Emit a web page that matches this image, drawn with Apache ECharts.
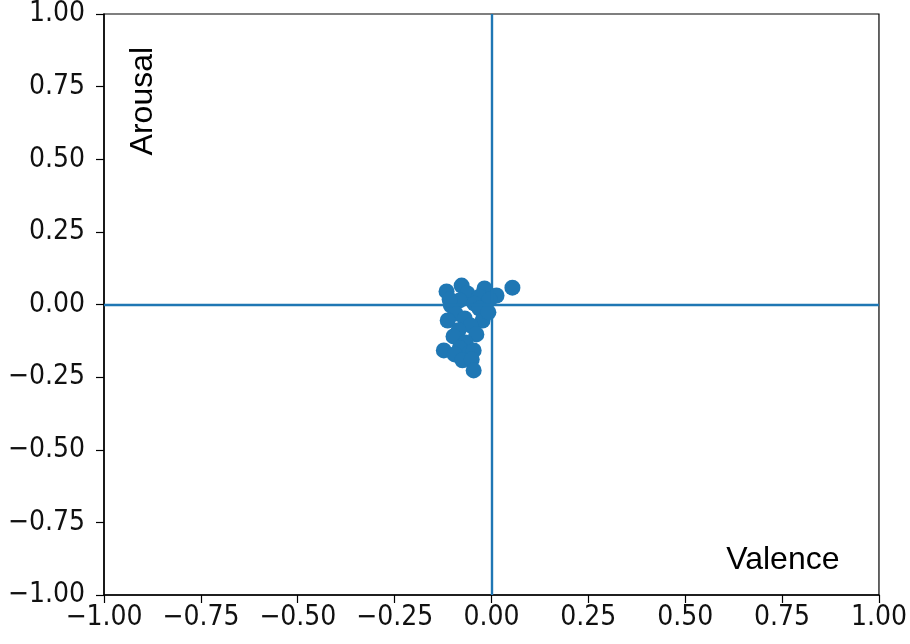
<!DOCTYPE html>
<html>
<head>
<meta charset="utf-8">
<script src="https://cdn.jsdelivr.net/npm/echarts@6/dist/echarts.min.js"></script>
<style>html,body{margin:0;padding:0;background:#fff;}#c{width:910px;height:644px;}</style>
</head>
<body>
<div id="c"></div>
<script>
// Valence (x) values
var valence = [-0.116,-0.077,-0.062,-0.018,0.054,0.013,-0.031,-0.105,-0.082,-0.044,-0.005,-0.031,-0.093,-0.113,-0.069,-0.023,-0.054,-0.085,-0.039,-0.098,-0.067,-0.008,-0.082,-0.057,-0.123,-0.095,-0.046,-0.075,-0.051,-0.046,-0.108];
// Arousal (y) values
var arousal = [0.045,0.065,0.038,0.055,0.058,0.031,0.027,-0.003,0.014,0.003,0.017,-0.014,-0.031,-0.055,-0.048,-0.055,-0.072,-0.089,-0.103,-0.110,-0.131,-0.027,-0.151,-0.168,-0.158,-0.172,-0.158,-0.192,-0.189,-0.227,0.017];
var axisMin = -1, axisMax = 1, axisStep = 0.25;
var annotations = [
  {name: 'Arousal', x: -0.90, y: 0.70, rotate: 90},
  {name: 'Valence', x: 0.752, y: -0.88, rotate: 0}
];

var pts = valence.map(function(v, i){ return [v, arousal[i]]; });
function fmt(v){ var s = Math.abs(v).toFixed(2); return (v < -1e-9 ? '\u2212' : '') + s; }
var tickFont = {fontFamily: 'DejaVu Sans Condensed, DejaVu Sans', fontSize: 28, color: '#111'};

var chart = echarts.init(document.getElementById('c'), null, {renderer: 'canvas'});
chart.setOption({
  animation: false,
  grid: {left: 104, right: 28, top: 13, bottom: 49, show: true, borderColor: '#000', borderWidth: 1.2, backgroundColor: 'transparent'},
  xAxis: {
    type: 'value', min: axisMin, max: axisMax, interval: axisStep,
    axisLine: {show: true, onZero: false, lineStyle: {color: '#000', width: 1.5}},
    axisTick: {show: true, inside: false, length: 8, lineStyle: {color: '#000', width: 1.2}},
    axisLabel: Object.assign({margin: 9, formatter: fmt}, tickFont),
    splitLine: {show: false}
  },
  yAxis: {
    type: 'value', min: axisMin, max: axisMax, interval: axisStep,
    axisLine: {show: true, onZero: false, lineStyle: {color: '#000', width: 1.5}},
    axisTick: {show: true, inside: false, length: 8, lineStyle: {color: '#000', width: 1.2}},
    axisLabel: Object.assign({margin: 19, formatter: fmt}, tickFont),
    splitLine: {show: false}
  },
  series: [
    {
      type: 'scatter',
      data: pts,
      symbolSize: 16,
      itemStyle: {color: '#1f77b4', opacity: 1},
      markLine: {
        silent: true, symbol: 'none', label: {show: false},
        lineStyle: {color: '#1f77b4', width: 2.4, type: 'solid', opacity: 1},
        data: [{xAxis: 0}, {yAxis: 0}]
      },
      z: 3
    }
  ]
});
chart.setOption({
  graphic: annotations.map(function(a){
    var p = chart.convertToPixel({xAxisIndex: 0, yAxisIndex: 0}, [a.x, a.y]);
    return {
      type: 'text', x: p[0], y: p[1], rotation: a.rotate * Math.PI / 180, z: 10,
      style: {text: a.name, fill: '#000', font: '32px "Liberation Sans", Arial, sans-serif', textAlign: 'center', textVerticalAlign: 'middle'}
    };
  })
});
</script>
</body>
</html>
